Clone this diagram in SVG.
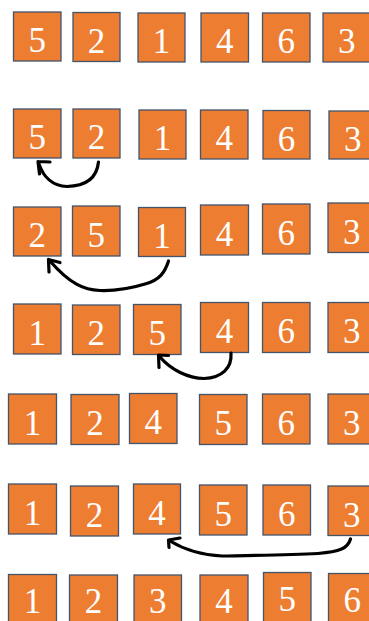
<svg xmlns="http://www.w3.org/2000/svg" width="369" height="621" viewBox="0 0 369 621">
<style>
.b rect{fill:#ED7D31;stroke:#44546A;stroke-width:1.3}
.b text{fill:#FFFFFF;font-family:"Liberation Serif","Times New Roman",serif;font-size:35px;text-anchor:middle}
.c path{fill:none;stroke:#000;stroke-width:3.2;stroke-linecap:round;stroke-linejoin:round}
</style>
<rect width="369" height="621" fill="#FFFFFF"/>
<!-- Row 1 -->
<g id="r1n1" class="b"><rect x="13.5" y="12" width="47.5" height="49"/><text x="37.25" y="52">5</text></g>
<g id="r1n2" class="b"><rect x="73" y="12.5" width="47" height="49"/><text x="96.5" y="52.5">2</text></g>
<g id="r1n3" class="b"><rect x="138" y="13" width="47" height="49"/><text x="161.5" y="53">1</text></g>
<g id="r1n4" class="b"><rect x="201" y="13" width="47.5" height="49"/><text x="224.75" y="53">4</text></g>
<g id="r1n5" class="b"><rect x="262.5" y="13" width="47.5" height="49"/><text x="286.25" y="53">6</text></g>
<g id="r1n6" class="b"><rect x="323" y="13" width="47.5" height="49"/><text x="346.75" y="53">3</text></g>
<!-- Row 2 -->
<g id="r2n1" class="b"><rect x="13.5" y="109" width="47.5" height="49"/><text x="37.25" y="149">5</text></g>
<g id="r2n2" class="b"><rect x="73" y="109" width="47" height="49"/><text x="96.5" y="149">2</text></g>
<g id="r2n3" class="b"><rect x="139" y="110" width="47" height="49"/><text x="162.5" y="150">1</text></g>
<g id="r2n4" class="b"><rect x="200.5" y="110" width="47.5" height="49"/><text x="224.25" y="150">4</text></g>
<g id="r2n5" class="b"><rect x="263" y="110.5" width="47" height="48.5"/><text x="286.5" y="150.5">6</text></g>
<g id="r2n6" class="b"><rect x="329" y="111" width="47.5" height="48"/><text x="352.75" y="151">3</text></g>
<!-- Row 3 -->
<g id="r3n1" class="b"><rect x="13.5" y="207" width="47.5" height="49"/><text x="37.25" y="247">2</text></g>
<g id="r3n2" class="b"><rect x="72.5" y="206" width="47.5" height="50"/><text x="96.25" y="246.5">5</text></g>
<g id="r3n3" class="b"><rect x="138.5" y="207.5" width="47" height="49"/><text x="162" y="247.5">1</text></g>
<g id="r3n4" class="b"><rect x="200.5" y="205" width="48" height="50"/><text x="224.5" y="245.5">4</text></g>
<g id="r3n5" class="b"><rect x="262.5" y="204" width="47.5" height="50"/><text x="286.25" y="244.5">6</text></g>
<g id="r3n6" class="b"><rect x="328" y="203" width="47.5" height="49.5"/><text x="351.75" y="243.5">3</text></g>
<!-- Row 4 -->
<g id="r4n1" class="b"><rect x="13.5" y="304" width="47.5" height="50"/><text x="37.25" y="344.5">1</text></g>
<g id="r4n2" class="b"><rect x="72.5" y="305" width="47.5" height="49.5"/><text x="96.25" y="345">2</text></g>
<g id="r4n3" class="b"><rect x="133.5" y="304.5" width="47.5" height="50"/><text x="157.25" y="345">5</text></g>
<g id="r4n4" class="b"><rect x="200.5" y="302.5" width="48" height="50"/><text x="224.5" y="343">4</text></g>
<g id="r4n5" class="b"><rect x="262.5" y="302.5" width="47.5" height="50"/><text x="286.25" y="343">6</text></g>
<g id="r4n6" class="b"><rect x="328" y="302.5" width="47.5" height="50"/><text x="351.75" y="343">3</text></g>
<!-- Row 5 -->
<g id="r5n1" class="b"><rect x="8.5" y="394" width="48" height="50"/><text x="32.5" y="434.5">1</text></g>
<g id="r5n2" class="b"><rect x="71" y="394.5" width="48" height="50"/><text x="95" y="435">2</text></g>
<g id="r5n3" class="b"><rect x="129.5" y="393.5" width="47.5" height="50"/><text x="153.25" y="434">4</text></g>
<g id="r5n4" class="b"><rect x="199.5" y="394.5" width="47.5" height="50"/><text x="223.25" y="435">5</text></g>
<g id="r5n5" class="b"><rect x="262.5" y="394" width="47.5" height="50"/><text x="286.25" y="434.5">6</text></g>
<g id="r5n6" class="b"><rect x="328" y="394" width="47.5" height="50"/><text x="351.75" y="434.5">3</text></g>
<!-- Row 6 -->
<g id="r6n1" class="b"><rect x="8.5" y="484" width="48" height="50"/><text x="32.5" y="524.5">1</text></g>
<g id="r6n2" class="b"><rect x="70.5" y="486" width="48" height="50"/><text x="94.5" y="526.5">2</text></g>
<g id="r6n3" class="b"><rect x="133.5" y="484" width="47" height="50"/><text x="157" y="524.5">4</text></g>
<g id="r6n4" class="b"><rect x="199.5" y="485" width="47.5" height="50"/><text x="223.25" y="525.5">5</text></g>
<g id="r6n5" class="b"><rect x="263" y="485" width="47.5" height="50"/><text x="286.75" y="525.5">6</text></g>
<g id="r6n6" class="b"><rect x="328" y="486" width="47.5" height="49.5"/><text x="351.75" y="526.5">3</text></g>
<!-- Row 7 -->
<g id="r7n1" class="b"><rect x="8.5" y="574.5" width="48" height="50"/><text x="32.5" y="612.5">1</text></g>
<g id="r7n2" class="b"><rect x="69.5" y="575" width="48" height="50"/><text x="93.5" y="612.5">2</text></g>
<g id="r7n3" class="b"><rect x="134" y="575" width="47.5" height="50"/><text x="157.75" y="612.5">3</text></g>
<g id="r7n4" class="b"><rect x="200" y="575" width="48" height="50"/><text x="224" y="612.5">4</text></g>
<g id="r7n5" class="b"><rect x="263.5" y="572.5" width="47.5" height="50"/><text x="287.25" y="610.5">5</text></g>
<g id="r7n6" class="b"><rect x="328.5" y="573.5" width="47.5" height="50"/><text x="352.25" y="611.5">6</text></g>
<!-- Connectors -->
<g id="connectors" class="c">
<path d="M98.5 162 C97 176 88 186 67 186.5 C52 186 43 176 39 164"/>
<path d="M38 161.5 L50 162 M38 161.5 L39.5 174"/>
<path d="M168.5 261 C165 272 160 280 145 284 C132 288 115 291 100 290.5 C84 290 70 284 50 261"/>
<path d="M48.5 259.5 L60 262.5 M48.5 259.5 L49 272"/>
<path d="M231 353 C232 368 222 378 204 378.5 C188 378 171 370 160 357"/>
<path d="M158.5 355 L168.5 355.5 M158.5 355 L159 367.5"/>
<path d="M350.5 539 C348 548 340 552 318 553.5 C290 555 250 555.5 222 556 C200 555 185 550 170 541"/>
<path d="M168.5 540 L180 538 M168.5 540 L169 547.5"/>
</g>
</svg>
